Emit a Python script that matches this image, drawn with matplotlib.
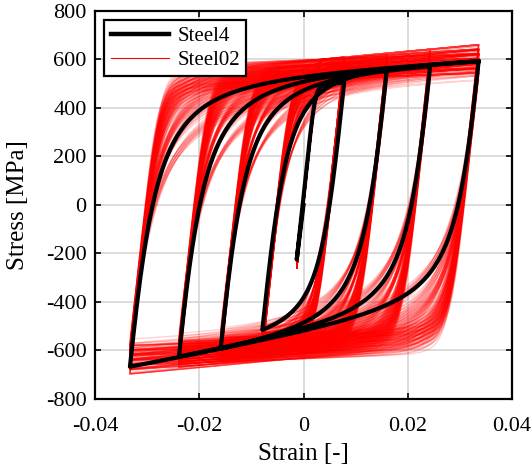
import numpy as np
import matplotlib.pyplot as plt
from itertools import product

plt.rcParams['font.family'] = ['Liberation Serif', 'DejaVu Serif']
plt.rcParams['axes.unicode_minus'] = False

# strain history (reversal points)
strain_peaks = [0.0, -0.0013, 0.0078, -0.0079, 0.0160, -0.0159, 0.0243, -0.0239, 0.0336, -0.0333, 0.0336]
# Steel4 stress at each reversal [MPa]
steel4_peaks = [0.0, -225, 504, -515, 559, -593, 572, -625, 593, -667, 593]
steel4_R = [None, 8.0, 2.2, 2.0, 1.9, 1.8, 1.8, 1.7, 1.7, 1.7]
E0 = 200000.0
b4_tens = 0.006
b4_comp = 0.02

# Steel02 parameter sets for the sampled curves
red_fy = [520, 540, 560, 580, 600]
red_b = [0.004, 0.007, 0.010]
red_R0 = [16, 20, 24]
red_cR1 = [0.78, 0.83, 0.88, 0.925]
cR2 = 0.15
a1 = 0.01

xticks = [-0.04, -0.02, 0, 0.02, 0.04]
xticklabels = ['-0.04', '-0.02', '0', '0.02', '0.04']
yticks = list(range(-800, 801, 200))


def mp_curve(eps, er, sr, e0, s0, b, R):
    x = (eps - er) / (e0 - er)
    s = b * x + (1 - b) * x / (1 + np.abs(x) ** R) ** (1 / R)
    return sr + s * (s0 - sr)


def anchored_branch(er, sr, ep, sp, R, n=200):
    eps = np.linspace(er, ep, n)
    if R is None:
        return eps, np.linspace(sr, sp, n)
    b = b4_tens if ep > er else b4_comp
    Esh = b * E0
    d = 0.0
    for _ in range(60):
        e0 = (sp + d - Esh * ep - sr + E0 * er) / (E0 - Esh)
        s0 = sr + E0 * (e0 - er)
        send = mp_curve(ep, er, sr, e0, s0, b, R)
        d += sp - send
    return eps, mp_curve(eps, er, sr, e0, s0, b, R)


def steel02(path, Fy, b, R0, cR1):
    Esh = b * E0
    epsy = Fy / E0
    kon = 0
    epsr = sigr = 0.0
    epsmax, epsmin = epsy, -epsy
    epss0 = sigs0 = epspl = 0.0
    epsP = 0.0
    out = np.empty_like(path)
    for i, eps in enumerate(path):
        deps = eps - epsP
        if kon == 0:
            if deps < 0:
                kon = 2
                epss0, sigs0, epspl = epsmin, -Fy, epsmin
            elif deps > 0:
                kon = 1
                epss0, sigs0, epspl = epsmax, Fy, epsmax
        elif kon == 2 and deps > 0:
            kon = 1
            epsr, sigr = epsP, out[i - 1]
            epsmin = min(epsP, epsmin)
            epss0 = (Fy - Esh * epsy - sigr + E0 * epsr) / (E0 - Esh)
            sigs0 = Fy + Esh * (epss0 - epsy)
            epspl = epsmax
        elif kon == 1 and deps < 0:
            kon = 2
            epsr, sigr = epsP, out[i - 1]
            epsmax = max(epsP, epsmax)
            shft = 1 + a1 * ((epsmax - epsmin) / (2 * epsy)) ** 0.8
            epss0 = (-Fy * shft + Esh * epsy * shft - sigr + E0 * epsr) / (E0 - Esh)
            sigs0 = -Fy * shft + Esh * (epss0 + epsy * shft)
            epspl = epsmin
        if kon == 0:
            out[i] = 0.0
        else:
            xi = abs((epspl - epss0) / epsy)
            R = R0 * (1 - cR1 * xi / (cR2 + xi))
            out[i] = mp_curve(eps, epsr, sigr, epss0, sigs0, b, R)
        epsP = eps
    return out


# strain path sampled between reversal points
path = [np.array([0.0])]
for a, c in zip(strain_peaks[:-1], strain_peaks[1:]):
    path.append(np.linspace(a, c, 150)[1:])
path = np.concatenate(path)

fig = plt.figure(figsize=(5.32, 4.70), dpi=100)
ax = fig.add_axes([0.1786, 0.1511, 0.7838, 0.8255])

for fy, bb, r0, c1 in product(red_fy, red_b, red_R0, red_cR1):
    sig = steel02(path, fy, bb, r0, c1)
    ax.plot(path, sig, color='red', lw=1.0, alpha=0.18, zorder=2)

bx, by = [], []
for i in range(1, len(strain_peaks)):
    e, s = anchored_branch(strain_peaks[i - 1], steel4_peaks[i - 1],
                           strain_peaks[i], steel4_peaks[i], steel4_R[i - 1])
    bx.append(e)
    by.append(s)
ax.plot(np.concatenate(bx), np.concatenate(by), color='black', lw=3.0, zorder=3)

h1, = ax.plot([], [], color='black', lw=3.2, label='Steel4')
h2, = ax.plot([], [], color='red', lw=0.8, label='Steel02')

ax.set_xlim(-0.04, 0.04)
ax.set_ylim(-800, 800)
ax.set_xticks(xticks)
ax.set_xticklabels(xticklabels)
ax.set_yticks(yticks)
ax.tick_params(direction='in', top=True, right=True, length=4, width=1.2, labelsize=16, pad=6)
ax.tick_params(axis='x', pad=13)
ax.grid(True, color='#d6d6d6', lw=1.2)
ax.set_axisbelow(True)
for sp in ax.spines.values():
    sp.set_linewidth(1.6)
ax.set_xlabel('Strain [-]', fontsize=18, labelpad=5)
ax.set_ylabel('Stress [MPa]', fontsize=18, labelpad=12)

leg = ax.legend(handles=[h1, h2], loc='upper left', fontsize=15, fancybox=False,
                framealpha=1, edgecolor='black', handlelength=2.8, borderaxespad=0.45,
                borderpad=0.3, labelspacing=0.2, handletextpad=0.4)
leg.get_frame().set_linewidth(1.6)

fig.savefig('out.png', dpi=100)
